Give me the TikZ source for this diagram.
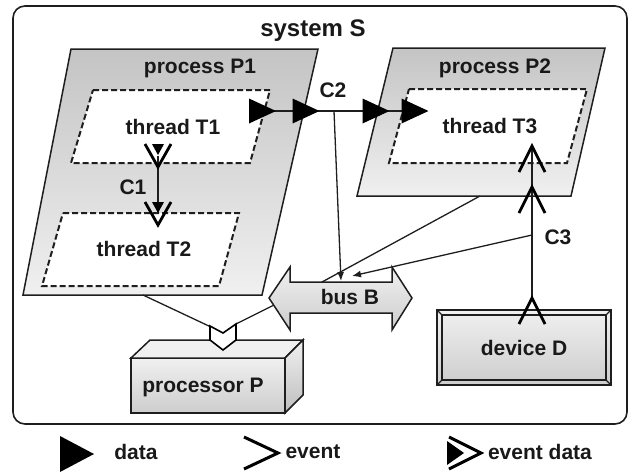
\documentclass[tikz,border=0pt]{standalone}
\usepackage{fontspec}
\setmainfont{Liberation Sans}
\usetikzlibrary{arrows.meta}
\definecolor{edge}{RGB}{30,30,30}
\definecolor{txt}{RGB}{25,25,25}
\definecolor{ptop}{RGB}{196,196,196}
\definecolor{pbot}{RGB}{240,240,240}
\definecolor{ltop}{RGB}{240,240,240}
\definecolor{lbot}{RGB}{205,205,205}
\definecolor{sideg}{RGB}{190,190,190}
\begin{document}
\begin{tikzpicture}[x=1pt,y=-1pt,
  lbl/.style={font=\fontsize{21}{25}\selectfont\bfseries, text=txt, inner sep=0pt},
  procshape/.style={draw=edge, line width=1.5pt, top color=ptop, bottom color=pbot},
  hwshape/.style={draw=edge, line width=1.5pt, top color=ltop, bottom color=lbot},
  thr/.style={draw=edge, fill=white, dash pattern=on 6pt off 3pt, line width=2pt},
  conn/.style={draw=edge, line width=2.2pt},
  bind/.style={draw=edge, line width=1.3pt},
  bindarrow/.style={bind, -{Latex[length=9pt,width=7pt]}},
  chev/.style={draw=black, line width=2.8pt, miter limit=10},
  pics/dtri/.style={code={\fill[black] (-13.5,-12.5) -- (13.5,0) -- (-13.5,12.5) -- cycle;}},
  pics/evchev/.style={code={\draw[chev] (-13,-13) -- (13,0) -- (-13,13);}},
  pics/edport/.style={code={\fill[black] (-12,-6) -- (-1,0) -- (-12,6) -- cycle;
                             \draw[chev] (-12,-13) -- (11,0) -- (-12,13);}}
]
\useasboundingbox (0,0) rectangle (633,475);

% system boundary
\draw[draw=edge, line width=1.6pt, rounded corners=12pt] (13,6) rectangle (627,424);
\node[lbl, font=\fontsize{24}{28}\selectfont\bfseries] (sysS) at (313,31) {system S};

% processes
\path[procshape] (71,49) -- (318,49) -- (262,295) -- (23,295) -- cycle;
\path[procshape] (393,48) -- (605,48) -- (571,196) -- (357,196) -- cycle;
\node[lbl] (p1lab) at (200,68) {process P1};
\node[lbl] (p2lab) at (495,68) {process P2};

% threads
\path[thr] (93,90) -- (270,90) -- (250,163) -- (71,163) -- cycle;
\path[thr] (63,213) -- (239,213) -- (219,286) -- (42,286) -- cycle;
\path[thr] (409,89) -- (587,89) -- (567,163) -- (389,163) -- cycle;
\node[lbl] (t1lab) at (173,127) {thread T1};
\node[lbl] (t2lab) at (144,249) {thread T2};
\node[lbl] (t3lab) at (490,126) {thread T3};

% bus
\path[hwshape] (269,298) -- (290,267) -- (290,282) -- (392,282) -- (392,267) -- (412,298)
  -- (392,330) -- (392,313) -- (290,313) -- (290,330) -- cycle;
\node[lbl] (busB) at (350,297) {bus B};

% processor
\path[hwshape] (131,358) rectangle (285,413);
\path[draw=edge, line width=1.5pt, fill=ltop] (131,358) -- (150,340) -- (303,340) -- (285,358) -- cycle;
\path[draw=edge, line width=1.5pt, top color=ltop, bottom color=sideg] (285,358) -- (303,340) -- (303,395) -- (285,413) -- cycle;
\node[lbl] (procP) at (203,387) {processor P};

% device
\path[hwshape] (437,310) rectangle (611,385);
\draw[edge, line width=1.5pt] (442,315) rectangle (606,380);
\draw[edge, line width=1.1pt] (437,310) -- (442,315) (611,310) -- (606,315) (437,385) -- (442,380) (611,385) -- (606,380);
\node[lbl] (devD) at (524,348) {device D};

% coordinates for connections
\coordinate (p1bot) at (143,295);
\coordinate (portL) at (211,327);
\coordinate (portR) at (236,324);
\coordinate (busL) at (274,305);
\coordinate (c2tap) at (334,111);
\coordinate (busIn1) at (341,281);
\coordinate (p2bot) at (480,196);
\coordinate (busIn0) at (322,282);
\coordinate (c3tap) at (532,235);
\coordinate (busIn2) at (352,276);

% bindings
\draw[bind] (p1bot) -- (portL);
\draw[bind] (busL) -- (portR);
\draw[bind] (p2bot) -- (busIn0);
\draw[bindarrow] (c2tap) -- (busIn1);
\draw[bindarrow] (c3tap) -- (busIn2);

% processor bus access port
\path[draw=black, fill=white, line width=1.6pt] (210,326) -- (223,333) -- (236,324) -- (236,340) -- (223,350) -- (210,340) -- cycle;

% C1 (event data)
\coordinate (c1out) at (158,156);
\coordinate (c1in) at (158,214);
\draw[conn] (c1out) -- (c1in);
\pic[rotate=-90] at (c1out) {edport};
\pic[rotate=-90] at (c1in) {edport};
\node[lbl] (c1lab) at (133,187) {C1};

% C2 (data)
\coordinate (c2a) at (262.5,111);
\coordinate (c2b) at (306,111);
\coordinate (c2c) at (376,111);
\coordinate (c2d) at (415,111);
\draw[conn] (c2a) -- (c2d);
\pic at (c2a) {dtri};
\pic at (c2b) {dtri};
\pic at (c2c) {dtri};
\pic at (c2d) {dtri};
\node[lbl] (c2lab) at (333,90) {C2};

% C3 (event)
\coordinate (c3dev) at (532,311);
\coordinate (c3p2) at (532,200);
\coordinate (c3t3) at (532,159);
\coordinate (c3top) at (532,148);
\coordinate (c3bot) at (532,299);
\draw[conn] (c3bot) -- (c3top);
\pic[rotate=90] at (c3dev) {evchev};
\pic[rotate=90] at (c3p2) {evchev};
\pic[rotate=90] at (c3t3) {evchev};
\node[lbl] (c3lab) at (558,237) {C3};

% legend
\fill[black] (60,436) -- (94,454) -- (60,472) -- cycle;
\node[lbl] (legdata) at (136,452) {data};
\draw[chev, line width=3pt] (244,437) -- (278,453) -- (244,469);
\node[lbl] (legevent) at (313,452) {event};
\fill[black] (447,441) -- (464,453) -- (447,465) -- cycle;
\draw[chev, line width=3pt] (449,437) -- (481,453) -- (449,469);
\node[lbl] (legevdata) at (540,452) {event data};
\end{tikzpicture}
\end{document}
